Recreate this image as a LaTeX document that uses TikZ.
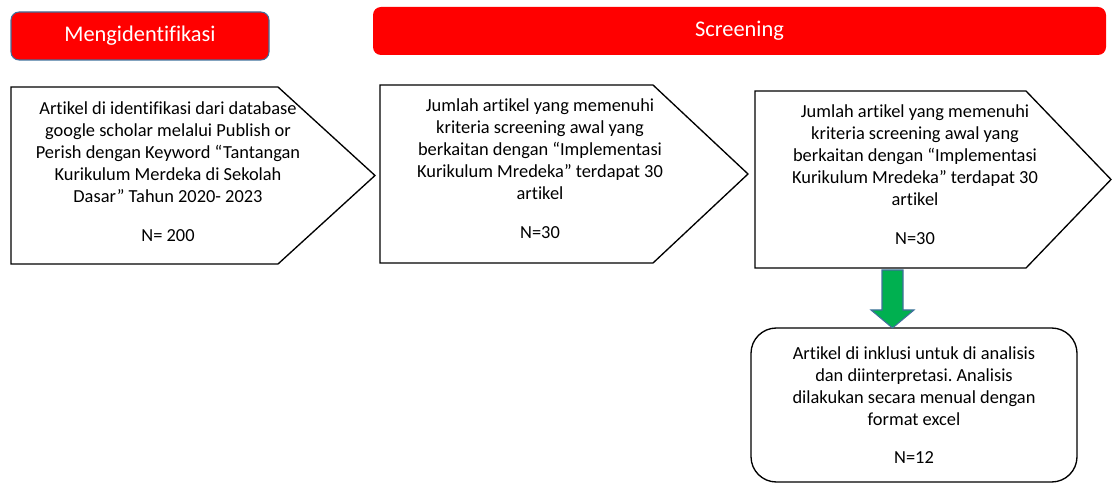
\documentclass[tikz,border=0pt]{standalone}
\usepackage{fontspec}
\setmainfont{Carlito}[Ligatures=NoCommon]
\usetikzlibrary{positioning}
\frenchspacing
\definecolor{hdrRed}{RGB}{255,0,0}
\definecolor{hdrBlue}{RGB}{65,113,156}
\definecolor{arrowGreen}{RGB}{0,176,80}
% name, left, top, shoulder, tip, bottom
\newcommand{\pentagonBox}[6]{
	\coordinate (#1-nw) at (#2, #3);
	\coordinate (#1-ne) at (#4, #3);
	\coordinate (#1-tip) at (#5, {(#3 + #6)/2});
	\coordinate (#1-se) at (#4, #6);
	\coordinate (#1-sw) at (#2, #6);
	\draw[outline] (#1-nw) -- (#1-ne) -- (#1-tip) -- (#1-se) -- (#1-sw) -- cycle;
}

\begin{document}
\begin{tikzpicture}[x=0.75pt, y=-0.75pt,
	header/.style={fill=hdrRed, rounded corners=6pt, text=white, inner sep=0pt,
		font=\fontsize{16.8}{20}\selectfont},
	body/.style={align=center, inner sep=0pt, font=\fontsize{13.8}{16.5}\selectfont},
	outline/.style={line width=1pt, line join=miter}]
	\useasboundingbox (0,0) rectangle (1113,484);

	% headers
	\node[header, draw=hdrBlue, line width=0.8pt, minimum width=193.5pt, minimum height=36pt]
		(hdrIdent) at (140,36) {Mengidentifikasi};
	\node[header, minimum width=549.75pt, minimum height=36pt]
		(hdrScreen) at (739.5,31) {Screening};

	% steps
	\pentagonBox{stepA}{11}{87}{278}{375}{264};
	\pentagonBox{stepB}{380}{85}{653}{748}{263};
	\pentagonBox{stepC}{755}{91}{1026}{1111}{268};

	\node[body] (txtA) at (168,171.5) {Artikel di identifikasi dari database\\
		google scholar melalui Publish or\\
		Perish dengan Keyword “Tantangan\\
		Kurikulum Merdeka di Sekolah\\
		Dasar” Tahun 2020- 2023\\[12.75pt]
		N= 200};
	\node[body] (txtB) at (540,169) {Jumlah artikel yang memenuhi\\
		kriteria screening awal yang\\
		berkaitan dengan “Implementasi\\
		Kurikulum Mredeka” terdapat 30\\
		artikel\\[12.75pt]
		N=30};
	\node[body] (txtC) at (915,174.5) {Jumlah artikel yang memenuhi\\
		kriteria screening awal yang\\
		berkaitan dengan “Implementasi\\
		Kurikulum Mredeka” terdapat 30\\
		artikel\\[12.75pt]
		N=30};

	% result
	\node[body, draw, line width=1pt, rounded corners=19pt, minimum width=244.5pt,
		minimum height=115.5pt] (incl) at (914,405) {Artikel di inklusi untuk di analisis\\
		dan diinterpretasi. Analisis\\
		dilakukan secara menual dengan\\
		format excel\\[12pt]
		N=12};

	% green block arrow
	\coordinate (arrTop) at (892.5,270);
	\draw[fill=arrowGreen, draw=hdrBlue, line width=0.8pt, line join=miter]
		(arrTop) ++(-10.5,0) -- ++(0,40) -- ++(-11,0) -- ++(21.5,18)
		-- ++(21.5,-18) -- ++(-11,0) -- ++(0,-40) -- cycle;
\end{tikzpicture}
\end{document}
